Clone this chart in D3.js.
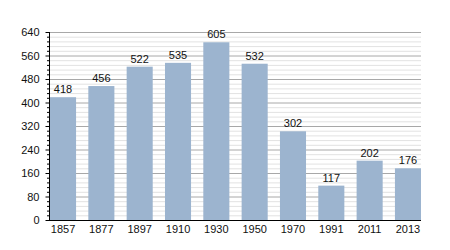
<!DOCTYPE html>
<html><head><meta charset="utf-8">
<script src="https://cdn.jsdelivr.net/npm/d3@7"></script>
<style>body{margin:0;background:#fff;}svg{display:block;font-family:"Liberation Sans",Arial,sans-serif;}</style>
</head><body>
<script>
const years = ["1857","1877","1897","1910","1930","1950","1970","1991","2011","2013"];
const population = [418,456,522,535,605,532,302,117,202,176];
const yTicks = [0,80,160,240,320,400,480,560,640];

(function(){
const W=450,H=250, mLeft=50, mRight=421, mTop=32, mBottom=220;
const svg=d3.select("body").append("svg").attr("width",W).attr("height",H);
const x=d3.scaleBand().domain(years).range([mLeft,mRight]).paddingInner(0.32).paddingOuter(0);
const y=d3.scaleLinear().domain([0,640]).range([mBottom,mTop]);

const minor=d3.range(0,641,16).filter(v=>v%80!==0);
svg.append("g").selectAll("line").data(minor).join("line")
  .attr("x1",mLeft).attr("x2",mRight).attr("y1",d=>y(d)+0.5).attr("y2",d=>y(d)+0.5)
  .attr("stroke","#e2e2e2").attr("stroke-width",1);
svg.append("g").selectAll("line").data(yTicks.filter(v=>v>0)).join("line")
  .attr("x1",mLeft).attr("x2",mRight).attr("y1",d=>y(d)+0.5).attr("y2",d=>y(d)+0.5)
  .attr("stroke","#a8a8a8").attr("stroke-width",1);

svg.append("g").selectAll("rect").data(population).join("rect")
  .attr("x",(d,i)=>x(years[i])).attr("width",x.bandwidth())
  .attr("y",d=>y(d)).attr("height",d=>mBottom-y(d)).attr("fill","#9cb4cf");

svg.append("g").selectAll("text").data(population).join("text")
  .attr("x",(d,i)=>x(years[i])+x.bandwidth()/2).attr("y",d=>y(d)-4)
  .attr("text-anchor","middle").attr("font-size",11).attr("fill","#111").text(d=>d);

const ya=svg.append("g").attr("transform",`translate(${mLeft-0.5},0)`)
  .call(d3.axisLeft(y).tickValues(yTicks).tickSize(4).tickPadding(6).tickFormat(d3.format("d")));
ya.select(".domain").remove();
ya.selectAll("text").attr("font-size",11).attr("fill","#111").attr("font-family","Liberation Sans, Arial, sans-serif");
ya.selectAll(".tick line").attr("stroke","#000");
svg.append("g").selectAll("line").data(minor).join("line")
  .attr("x1",mLeft-3).attr("x2",mLeft).attr("y1",d=>y(d)+0.5).attr("y2",d=>y(d)+0.5).attr("stroke","#000");
svg.append("line").attr("x1",mLeft-0.5).attr("x2",mLeft-0.5).attr("y1",mTop).attr("y2",mBottom+1).attr("stroke","#000");

const xa=svg.append("g").attr("transform",`translate(0,${mBottom+0.5})`)
  .call(d3.axisBottom(x).tickSize(0).tickPadding(5));
xa.select(".domain").remove();
xa.selectAll("text").attr("font-size",11).attr("fill","#111").attr("font-family","Liberation Sans, Arial, sans-serif");
svg.append("line").attr("x1",mLeft-1).attr("x2",mRight).attr("y1",mBottom+0.5).attr("y2",mBottom+0.5).attr("stroke","#000");
})();
</script>
</body></html>
